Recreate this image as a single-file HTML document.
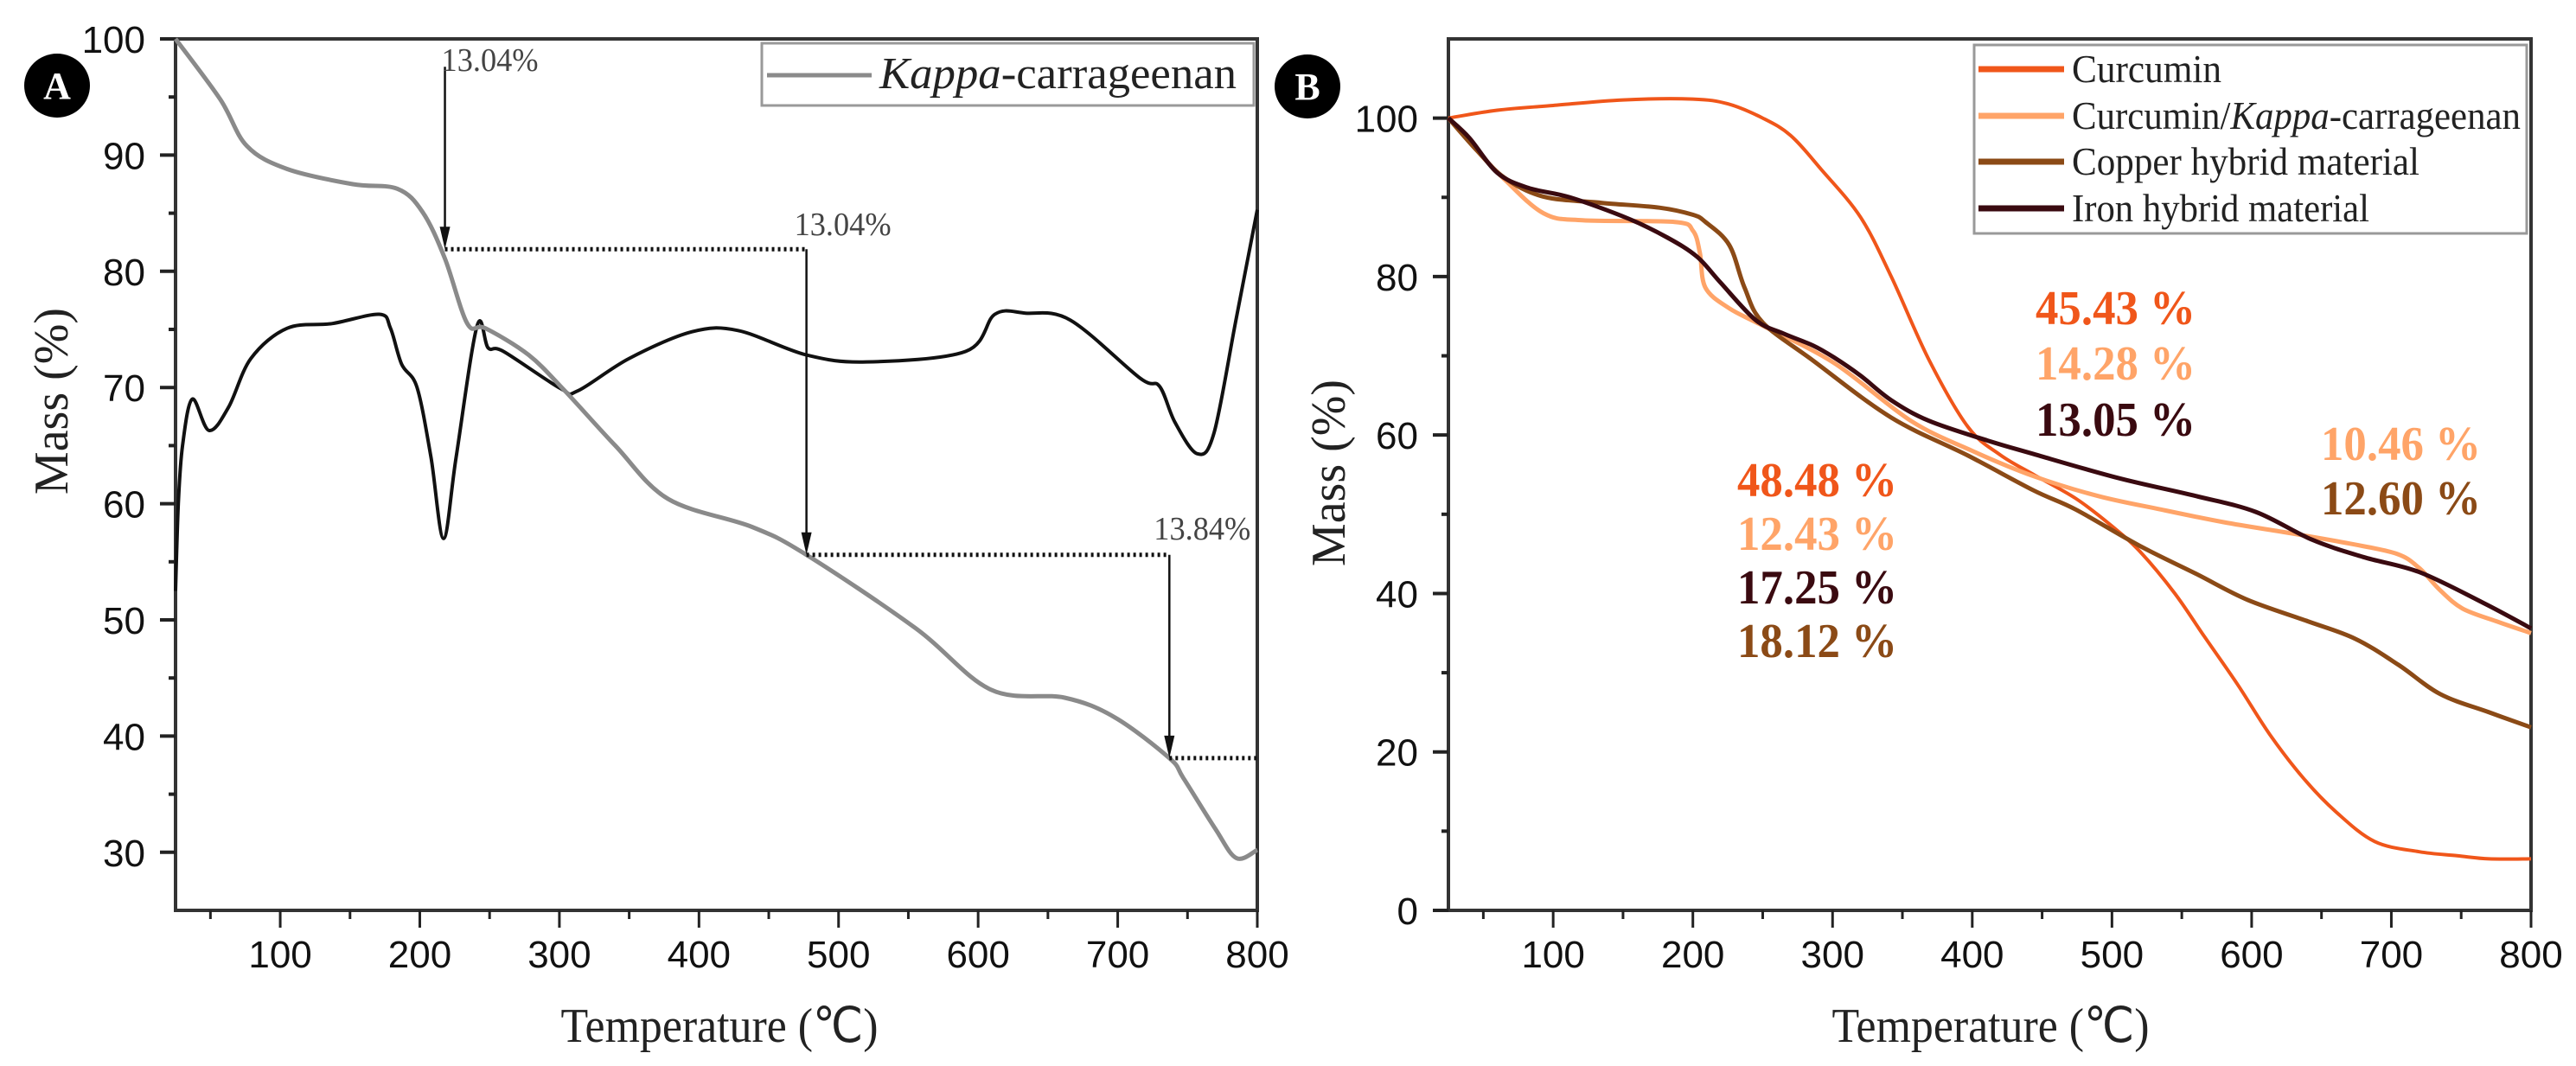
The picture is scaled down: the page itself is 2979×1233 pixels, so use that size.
<!DOCTYPE html>
<html><head><meta charset="utf-8"><style>
html,body{margin:0;padding:0;background:#fff;}
svg{display:block;}
.tick{font-family:"Liberation Sans",Arial,sans-serif;font-size:44px;fill:#111;}
.serif{font-family:"Liberation Serif","Times New Roman",serif;}
</style></head><body>
<svg id="chart" width="2979" height="1233" viewBox="0 0 2979 1233" xmlns="http://www.w3.org/2000/svg">
<g id="panelA"></g>
<g id="panelB"></g>
</svg>
<script>
// Panel A data
const kappaT = [25,57,76,105,152,184,202,218,234,247,278,304,340,378,438,477,555,609,662,698,737,747,770,785,800];
const kappaV = [100,94.8,90.8,88.8,87.5,87.1,85.1,81.1,75.5,75.1,72.8,69.7,65,60.4,58.0,55.6,49.3,44.0,43.3,41.6,38.1,36.4,32,29.5,30.2];
const dtgT = [25,27,30,37,49,63,79,105,137,171,179,187,198,208,217,226,241,249,260,301,313,350,395,428,477,520,591,612,634,666,716,730,741,757,769,785,800];
const dtgV = [52.5,60,65,69,66.3,68.3,72.5,75.1,75.5,76.3,75.1,72,70,64,57,64,75.3,73.4,73.1,69.9,69.7,72.5,74.8,74.9,72.8,72.2,73.1,76.3,76.4,75.8,70.8,70.1,67,64.3,66.1,76,85.3];
const annT = [218,477,737];
const annLevel = [81.9,55.6,38.1];
const annLabels = ["13.04%","13.04%","13.84%"];
const aXTicks = [100,200,300,400,500,600,700,800];
const aYTicks = [30,40,50,60,70,80,90,100];
// Panel B data
const curT = [25,60,100,150,200,225,250,270,292,320,342,369,397,420,444,474,500,520,545,566,590,613,637,660,688,720,747,770,800];
const curV = [100,101,101.6,102.3,102.4,101.8,100,97.8,93.5,87.5,80,69.5,61,57.5,55,52,48.5,45.3,40,34.6,28.5,22.2,16.7,12.5,8.7,7.4,6.9,6.5,6.5];
const ckT = [25,45,65,93,121,187,200,205,209,226,250,301,356,400,444,490,535,580,628,670,704,720,735,751,775,800];
const ckV = [100,96,92.3,88.0,87.1,86.9,85.8,83,78.6,76.0,73.8,69.1,61.8,58,54.8,52.3,50.6,49,47.6,46.3,45.0,43.2,40.4,38.1,36.5,35.0];
const cuT = [25,45,65,93,135,176,200,209,226,237,250,286,342,397,444,474,520,560,597,640,674,705,735,770,800];
const cuV = [100,96,92.5,90.1,89.3,88.7,87.8,86.9,84.0,78.6,74.2,69.4,62.2,57.4,53.0,50.6,46,42.5,39.2,36.5,34.3,31,27.3,25,23.1];
const feT = [25,40,60,82,112,154,182,203,220,245,265,286,301,320,342,369,411,444,504,560,603,643,680,720,766,800];
const feV = [100,97.5,93.1,91.2,90.0,87.3,84.9,82.5,79.2,74.5,72.8,71.3,69.8,67.5,64.4,61.8,59.3,57.6,54.6,52.3,50.3,46.8,44.6,42.7,38.8,35.6];
const bXTicks = [100,200,300,400,500,600,700,800];
const bYTicks = [0,20,40,60,80,100];
const bLegend = ["Curcumin","Curcumin/Kappa-carrageenan","Copper hybrid material","Iron hybrid material"];
const bLabelText = ["48.48 %","12.43 %","17.25 %","18.12 %","45.43 %","14.28 %","13.05 %","10.46 %","12.60 %"];

const NS="http://www.w3.org/2000/svg";
function mk(parent,tag,attrs,text){const e=document.createElementNS(NS,tag);for(const k in attrs)e.setAttribute(k,attrs[k]);if(text!==undefined)e.textContent=text;parent.appendChild(e);return e;}
function smooth(pts){let d="M"+pts[0][0].toFixed(1)+","+pts[0][1].toFixed(1);for(let i=0;i<pts.length-1;i++){const p0=pts[i-1]||pts[i],p1=pts[i],p2=pts[i+1],p3=pts[i+2]||p2;const c1x=p1[0]+(p2[0]-p0[0])/6,c1y=p1[1]+(p2[1]-p0[1])/6,c2x=p2[0]-(p3[0]-p1[0])/6,c2y=p2[1]-(p3[1]-p1[1])/6;d+="C"+c1x.toFixed(1)+","+c1y.toFixed(1)+" "+c2x.toFixed(1)+","+c2y.toFixed(1)+" "+p2[0].toFixed(1)+","+p2[1].toFixed(1);}return d;}

function frame(g,L,R,T,B,xs,ys,xTicks,yTicks,xMin,yMinor){
  const ax=mk(g,'path',{d:`M${L},${T}H${R}V${B}H${L}Z`,fill:'none',stroke:'#333',"stroke-width":4});
  
  for(let t=50;t<=800;t+=50){const x=xs(t);const major=t%100===0;const l=mk(g,'line',{x1:x,x2:x,y1:B,y2:B+(major?20:10),stroke:'#222',"stroke-width":3});}
  xTicks.forEach(t=>{const e=mk(g,'text',{x:xs(t),y:B+66,class:'tick',"text-anchor":"middle"},String(t));});
  yMinor.forEach(v=>{const y=ys(v);const l=mk(g,'line',{x1:L-8,x2:L,y1:y,y2:y,stroke:'#222',"stroke-width":4});});
  yTicks.forEach(v=>{const y=ys(v);const l=mk(g,'line',{x1:L-18,x2:L,y1:y,y2:y,stroke:'#222',"stroke-width":4});
    const e=mk(g,'text',{x:L-35,y:y+16,class:'tick',"text-anchor":"end"},String(v));});
}
function series(g,T,V,xs,ys,color,w,name){const p=mk(g,'path',{d:smooth(T.map((t,i)=>[xs(t),ys(V[i])])),fill:'none',stroke:color,"stroke-width":w,"stroke-linejoin":"round"});}
function badge(g,cx,cy,letter,name){const c=mk(g,'ellipse',{cx:cx,cy:cy,rx:38,ry:37,fill:'#000'});const t=mk(g,'text',{x:cx,y:cy+15,"text-anchor":"middle",class:"serif","font-size":44,"font-weight":"bold",fill:"#fff"},letter);}
function labels(g,cx,cy,xcx,name){
  const yl=mk(g,'text',{x:0,y:0,transform:`translate(${cx},${cy}) rotate(-90)`,"text-anchor":"middle",class:"serif","font-size":56,fill:"#222",dy:"18"},"Mass (%)");
  const xl=mk(g,'text',{x:xcx,y:1205,"text-anchor":"middle",class:"serif","font-size":56,fill:"#222",textLength:367,lengthAdjust:"spacingAndGlyphs"},"Temperature (℃)");
}

// ---- Panel A
(function(){
  const g=document.getElementById('panelA');
  const L=203,R=1454,T=45,B=1053,xMin=25,xMax=800,yMin=25,yMax=100;
  const xs=t=>L+(t-xMin)/(xMax-xMin)*(R-L), ys=v=>B-(v-yMin)/(yMax-yMin)*(B-T);
  frame(g,L,R,T,B,xs,ys,aXTicks,aYTicks,xMin,[35,45,55,65,75,85,95]);
  series(g,dtgT,dtgV,xs,ys,'#111',4,'dtg-curve');
  series(g,kappaT,kappaV,xs,ys,'#8a8a8a',5,'kappa-carrageenan-line');
  // annotations
  const startY=[ys(97.6),ys(annLevel[0]),ys(annLevel[1])];
  annT.forEach((t,i)=>{const x=xs(t);const y1=startY[i],y2=ys(annLevel[i]);
    const l=mk(g,'line',{x1:x,x2:x,y1:y1,y2:y2-20,stroke:'#111',"stroke-width":2.5});
    const h=mk(g,'path',{d:`M${x-6},${y2-26}L${x+6},${y2-26}L${x},${y2}Z`,fill:'#111'});
    const xEnd=i<annT.length-1?xs(annT[i+1]):R;
    const d=mk(g,'line',{x1:x,x2:xEnd,y1:y2,y2:y2,stroke:'#111',"stroke-width":5,"stroke-dasharray":"3,4"});
  });
  const tp=[[xs(annT[0])-4,82],[xs(annT[1])-14,272],[xs(annT[2])-18,624]];
  annLabels.forEach((s,i)=>{const e=mk(g,'text',{x:tp[i][0],y:tp[i][1],class:"serif","font-size":38,fill:"#444",textLength:112,lengthAdjust:"spacingAndGlyphs"},s);});
  // legend
  const lg=mk(g,'g',{});
  mk(lg,'rect',{x:881,y:50,width:569,height:72,fill:'#fff',stroke:'#999',"stroke-width":3});
  const ll=mk(lg,'line',{x1:887,x2:1008,y1:87,y2:87,stroke:'#8a8a8a',"stroke-width":5});
  const lt=mk(lg,'text',{x:1017,y:102,class:"serif","font-size":52,fill:"#222",textLength:413,lengthAdjust:"spacingAndGlyphs"});
  mk(lt,'tspan',{"font-style":"italic"},"Kappa");mk(lt,'tspan',{},"-carrageenan");
  badge(g,66,99,'A','panel-a-badge');
  labels(g,60,464,832);
})();

// ---- Panel B
(function(){
  const g=document.getElementById('panelB');
  const L=1675,R=2927,T=45,B=1053,xMin=25,xMax=800,yMin=0,yMax=110;
  const xs=t=>L+(t-xMin)/(xMax-xMin)*(R-L), ys=v=>B-(v-yMin)/(yMax-yMin)*(B-T);
  frame(g,L,R,T,B,xs,ys,bXTicks,bYTicks,xMin,[10,30,50,70,90,110].filter(v=>v<110));
  const colors=['#f0561a','#ffa468','#8b4a16','#3a0a10'];
  series(g,curT,curV,xs,ys,colors[0],4,'curcumin-line');
  series(g,ckT,ckV,xs,ys,colors[1],5,'curcumin-kappa-line');
  series(g,cuT,cuV,xs,ys,colors[2],5,'copper-hybrid-line');
  series(g,feT,feV,xs,ys,colors[3],5,'iron-hybrid-line');
  // legend
  const lg=mk(g,'g',{});
  mk(lg,'rect',{x:2283,y:52,width:639,height:218,fill:'#fff',stroke:'#999',"stroke-width":3});
  const ly=[80,134,187,241], lw=[173,519,402,344];
  bLegend.forEach((s,i)=>{
    const l=mk(lg,'line',{x1:2288,x2:2387,y1:ly[i],y2:ly[i],stroke:colors[i],"stroke-width":7});
    const t=mk(lg,'text',{x:2396,y:ly[i]+15,class:"serif","font-size":46,fill:"#222",textLength:lw[i],lengthAdjust:"spacingAndGlyphs"});
    if(i===1){mk(t,'tspan',{},"Curcumin/");mk(t,'tspan',{"font-style":"italic"},"Kappa");mk(t,'tspan',{},"-carrageenan");}else t.textContent=s;
  });
  const pos=[[2009,555],[2009,617],[2009,679],[2009,741],[2354,356],[2354,420],[2354,485],[2684,513],[2684,576]];
  const lc=[colors[0],colors[1],colors[3],colors[2],colors[0],colors[1],colors[3],colors[1],colors[2]];
  bLabelText.forEach((s,i)=>{const e=mk(g,'text',{x:pos[i][0],y:pos[i][1]+19,class:"serif","font-size":56,"font-weight":"bold",fill:lc[i],textLength:185,lengthAdjust:"spacingAndGlyphs"},s);});
  badge(g,1512,100,'B','panel-b-badge');
  labels(g,1537,547,2302);
})();
</script>
</body></html>
